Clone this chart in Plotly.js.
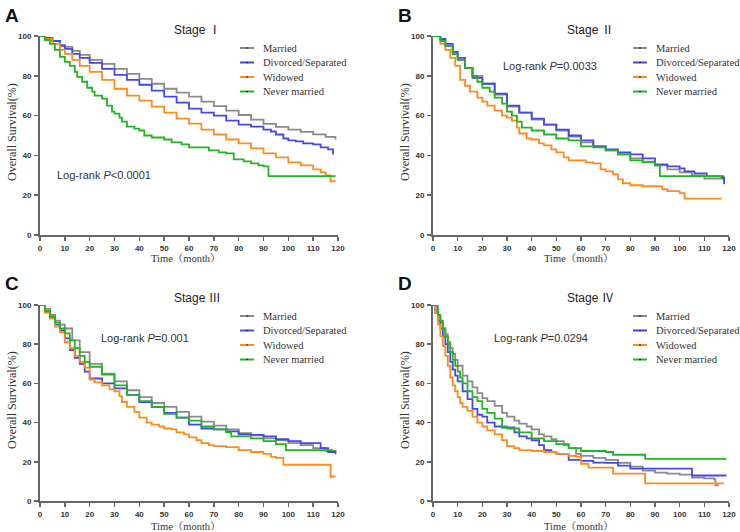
<!DOCTYPE html>
<html>
<head>
<meta charset="utf-8">
<script src="https://cdn.plot.ly/plotly-3.0.1.min.js"></script>
<style>html,body{margin:0;padding:0;background:#fff;}#chart{width:740px;height:532px;}</style>
</head>
<body>
<div id="chart"></div>
<script>
// ---------- DATA ----------
const groups = ["Married", "Divorced/Separated", "Widowed", "Never married"];
const panelLetters = ["A", "B", "C", "D"];
const stageTitles = ["Stage Ⅰ", "Stage Ⅱ", "Stage Ⅲ", "Stage Ⅳ"];
const logrankTexts = ["Log-rank <i>P</i>&lt;0.0001", "Log-rank <i>P</i>=0.0033", "Log-rank <i>P</i>=0.001", "Log-rank <i>P</i>=0.0294"];
const xTicks = [0,10,20,30,40,50,60,70,80,90,100,110,120];
const yTicks = [0,20,40,60,80,100];

// Stage I
const s1MarriedT = [0,2,5,8,10,13,16,20,25,30,35,40,45,50,55,60,65,70,75,80,85,90,95,100,105,110,115,119];
const s1MarriedS = [100,99,97.5,95.5,94.5,92.5,90.5,88,86,83.5,81,78.5,76,73.5,71.5,69.5,67,64.8,62.5,60.3,58,55.8,54.3,53,51.8,50.6,49.3,48];
const s1DivT = [0,2,5,8,10,13,16,20,25,30,35,40,45,50,55,60,65,70,75,80,85,90,93,95,98,100,103,106,110,113,116,118];
const s1DivS = [100,99,97.5,95,93.5,91,89,86.5,83.5,80.5,78,75.5,72.5,69.5,66.5,63.5,61.5,60,57.5,55.5,54.5,53,52,50.5,48.5,47.5,47,46,45.5,44,43,40.5];
const s1WidT = [0,2,5,8,10,13,16,20,25,30,35,40,45,50,55,60,65,70,75,80,85,90,95,100,105,110,113,115,117,119];
const s1WidS = [100,98.5,96,93,91,88,85,82,78,73.5,70,67.5,64.5,61.5,58.5,56,53,50.5,48,46,43.5,41,39,36.5,35,33,31.5,30,27,27];
const s1NevT = [0,2,4,6,8,10,12,14,15,17,19,21,22,25,27,29,30,32,33,35,38,40,42,45,50,53,57,60,65,68,72,75,78,82,85,88,90,92,119];
const s1NevS = [100,98,96,93,89.5,87,85,82,79.5,77,74,72,70,68.5,65,62,61,59,57,54.5,53.5,52.5,50,49,48,46.5,45.5,44,44,42.5,41.5,41,38,37,36,35,34.5,29.6,29.6];

// Stage II
const s2MarriedT = [0,3,5,8,10,13,16,20,25,30,35,40,45,50,55,60,65,70,75,80,85,90,95,100,105,110,118];
const s2MarriedS = [100,98,95,91,88,84,80,76,70.5,64.5,61.5,58,55.5,52.5,49.5,46.5,44.5,42.5,40.5,38.5,36.8,35,33,31.5,30,28.3,27.5];
const s2DivT = [0,3,5,8,10,13,16,20,25,30,35,40,45,50,55,60,65,70,75,80,85,90,95,100,102,106,111,117,118];
const s2DivS = [100,98.5,96,92,89,84,79,76,71,65,61.5,58.5,55.5,53,50,47.5,44.5,43,41.5,40.5,38.5,35.5,34.5,33.5,32,31,29.5,29,25.5];
const s2WidT = [0,3,5,7,9,11,13,15,18,20,22,25,28,30,32,34,35,38,40,43,45,48,50,53,55,60,62,65,68,70,73,75,77,80,85,90,93,95,100,102,117];
const s2WidS = [100,96,93,89,85,78,75,72,69,67,65,62.5,60,59,57.5,54,51,48.5,48,46,45,43,41.5,39,37.5,37.5,36.5,36,33,32,30.5,28,26,25,24.5,24.5,23,22,21,18.3,18.3];
const s2NevT = [0,3,5,8,10,13,16,18,20,23,25,28,30,32,34,36,40,45,50,55,60,65,70,75,80,85,90,92,118];
const s2NevS = [100,97.5,95,91,88,84,80,77,74,72,69,66,62,60,57,54,52.5,50.5,48.5,47.5,44.5,44,42.5,40.5,37.5,36.5,35,29.6,29.6];

// Stage III
const s3MarriedT = [0,2,4,6,8,10,13,16,20,25,30,35,40,45,50,55,60,65,70,75,80,85,90,95,100,105,110,115,119];
const s3MarriedS = [100,98,95,92,90,88,82,76,70,65,61,56.5,53,50,48,45.5,43,40.5,38.5,36.5,34.6,33.5,32,31,29.5,28.5,27,25.5,25.3];
const s3DivT = [0,2,4,6,8,10,12,14,16,18,20,25,30,35,40,45,50,55,60,65,70,75,80,85,90,95,100,105,110,113,116,119];
const s3DivS = [100,97,94,90,87,83,77,73,70,66,62.5,60,57.5,54,50.5,48,45,42.5,39,37,36.5,35.5,34,33.7,33,31.5,30.5,29.5,29.5,27,25,24];
const s3WidT = [0,2,4,6,8,10,12,14,16,18,20,22,25,28,30,32,33,35,38,40,43,45,48,50,53,55,58,60,63,65,68,70,75,80,85,90,93,95,98,116,117,119];
const s3WidS = [100,96,93,89,86,81,78,74,71,68,62,60.5,59,57,56,53.5,50.5,48,45.5,42.5,40,39,38,37,36.5,35,34,32.5,31,29.5,28.5,28,27.5,26,25,24,22.5,22,18.5,18.5,12.5,12.5];
const s3NevT = [0,2,4,6,8,10,12,14,16,18,20,25,30,35,40,45,50,55,60,65,70,75,77,80,85,90,95,99,118];
const s3NevS = [100,97,94,91,88,85.5,82,78,74,71,68.5,64.5,59,54,51,48,44.5,42.5,41,38,36.5,35,33,33,32,30.5,29,26,26];

// Stage IV
const s4MarriedT = [0,1,2,3,4,5,6,7,8,9,10,12,14,16,18,20,22,25,28,30,33,35,38,40,43,45,48,50,53,55,58,60,65,70,75,80,85,90,95,100,105,110,114,114.5,116];
const s4MarriedS = [100,97,94,91,88,85,81,78,75,72,69,64,61,58,55,52.5,51,48.5,45,43,41,39.5,38,36.5,34,33,31.5,30.5,28.5,27,24,23,22,21,19.5,17.5,15.5,14.5,14,13.5,12,11.5,11,8,8];
const s4DivT = [0,1,2,3,4,5,6,7,8,9,10,12,14,16,18,20,22,25,28,30,33,35,38,40,43,45,48,50,55,60,65,70,75,80,90,100,105,119];
const s4DivS = [100,96,92,88,84,80,76,71,67,64,61,56,52,47,44,43,40,38,37.5,37.5,35,33,32,31,28.5,26,25,24,21,20.5,19.6,19.5,18,16.5,16.5,16.5,13,13];
const s4WidT = [0,1,2,3,4,5,6,7,8,9,10,11,12,14,16,18,20,22,25,28,30,33,35,40,45,50,55,58,60,63,70,73,80,86,118];
const s4WidS = [100,96,90,84,79,74,69,63,59,56,53,50,48,46,43,40,38,36,34,31,28,27,26,25.5,25,24,23,22.5,19,17,17,14,14,9,9];
const s4NevT = [0,1,2,3,4,5,6,7,8,9,10,11,12,14,16,18,20,22,25,28,30,35,40,45,50,55,60,70,73,86,119];
const s4NevS = [100,100,95,92,88,84,80,76,72,69,66,63,60,56,53,51,47,45,42,38,37,35,32,30.5,29,27,25.5,25,23.6,21.5,21.5];

const panelsT = [[s1MarriedT,s1DivT,s1WidT,s1NevT],[s2MarriedT,s2DivT,s2WidT,s2NevT],[s3MarriedT,s3DivT,s3WidT,s3NevT],[s4MarriedT,s4DivT,s4WidT,s4NevT]];
const panelsS = [[s1MarriedS,s1DivS,s1WidS,s1NevS],[s2MarriedS,s2DivS,s2WidS,s2NevS],[s3MarriedS,s3DivS,s3WidS,s3NevS],[s4MarriedS,s4DivS,s4WidS,s4NevS]];

// ---------- STYLE / LAYOUT ----------
const W = 740, H = 532;
const colors = ["#8a8a8a", "#4646ee", "#ff8a1e", "#22b422"];
const px = x => x / W;
const py = y => 1 - y / H;

// plot area pixel boxes [left, right, top, bottom]
const boxes = [[40,338,36,235],[433,729,36,235],[40,338,305,501],[433,729,305,501]];
// offsets of panel (for text placement)
const offs = [[0,0],[393,0],[0,268],[393,268]];
const xTitleY = [258.5, 258.5, 526, 526];

const traces = [];
const layout = {
  width: W, height: H,
  margin: {l:0, r:0, t:0, b:0},
  paper_bgcolor: "#fff", plot_bgcolor: "#fff",
  showlegend: false,
  annotations: [], shapes: []
};

boxes.forEach((b, i) => {
  const n = i === 0 ? "" : String(i + 1);
  const xa = "xaxis" + n, ya = "yaxis" + n;
  const axCommon = {
    showgrid: false, zeroline: false, showline: true,
    linecolor: "#666", linewidth: 2,
    ticks: "outside", ticklen: 4, tickwidth: 1.5, tickcolor: "#666",
    tickfont: {family: "Liberation Sans, Arial", size: 8, color: "#333", weight: "bold"},
    fixedrange: true
  };
  layout[xa] = Object.assign({}, axCommon, {
    domain: [px(b[0]), px(b[1])], range: [0, 120],
    tickvals: xTicks, anchor: "y" + n, ticklabelstandoff: 0
  });
  layout[ya] = Object.assign({}, axCommon, {
    domain: [py(b[3]), py(b[2])], range: [0, 100],
    tickvals: yTicks, anchor: "x" + n, ticklabelstandoff: 1
  });

  groups.forEach((g, k) => {
    traces.push({
      type: "scatter", mode: "lines",
      x: panelsT[i][k], y: panelsS[i][k],
      xaxis: "x" + n, yaxis: "y" + n,
      name: g,
      line: {color: colors[k], width: 1.8, shape: "hv"},
      hoverinfo: "skip"
    });
  });

  const ox = offs[i][0], oy = offs[i][1];
  // panel letter
  layout.annotations.push({xref:"paper", yref:"paper", x: px(3 + ox), y: py(15 + oy), xanchor:"left", yanchor:"middle",
    text: panelLetters[i], showarrow:false, font:{family:"Liberation Sans, Arial", size:19, color:"#111", weight:"bold"}});
  // stage title
  layout.annotations.push({xref:"paper", yref:"paper", x: px(197 + ox), y: py(30 + oy), xanchor:"center", yanchor:"middle",
    text: stageTitles[i], showarrow:false, font:{family:"Liberation Sans, Noto Sans CJK SC", size:12, color:"#222"}});
  // y title
  layout.annotations.push({xref:"paper", yref:"paper", x: px(12 + ox), y: py(132 + oy), xanchor:"center", yanchor:"middle",
    text: "Overall Survival(%)", textangle: -90, showarrow:false, font:{family:"Liberation Serif, Noto Sans CJK SC", size:12, color:"#333"}});
  // x title
  layout.annotations.push({xref:"paper", yref:"paper", x: px(186 + ox), y: py(xTitleY[i]), xanchor:"center", yanchor:"middle",
    borderpad: 0,
    text: "Time（month）", showarrow:false, font:{family:"Liberation Serif, Noto Serif CJK SC, Noto Sans CJK SC", size:10.5, color:"#333"}});
});

// log-rank text positions
const lrPos = [[55,175,"left"],[550,66,"center"],[145,338,"center"],[541,338,"center"]];
lrPos.forEach((p, i) => {
  layout.annotations.push({xref:"paper", yref:"paper", x: px(p[0]), y: py(p[1]), xanchor:p[2], yanchor:"middle",
    text: logrankTexts[i], showarrow:false, font:{family:"Liberation Sans, Arial", size:11, color:"#333"}});
});

// manual legends
const legPos = [[240,48],[633,48],[240,316],[633,316]];
legPos.forEach(p => {
  groups.forEach((g, k) => {
    const y = p[1] + k * 14.5;
    layout.shapes.push({type:"line", xref:"paper", yref:"paper", x0:px(p[0]), x1:px(p[0]+14), y0:py(y), y1:py(y),
      line:{color:colors[k], width:2}});
    layout.shapes.push({type:"circle", xref:"paper", yref:"paper", x0:px(p[0]+6.2), x1:px(p[0]+7.8), y0:py(y+0.8), y1:py(y-0.8),
      fillcolor:"#111", line:{width:0}});
    layout.annotations.push({xref:"paper", yref:"paper", x:px(p[0]+21), y:py(y), xanchor:"left", yanchor:"middle",
      text:g, showarrow:false, font:{family:"Liberation Serif, Times New Roman", size:10.5, color:"#333"}});
  });
});

Plotly.newPlot("chart", traces, layout, {displayModeBar:false, staticPlot:true});
</script>
</body>
</html>
